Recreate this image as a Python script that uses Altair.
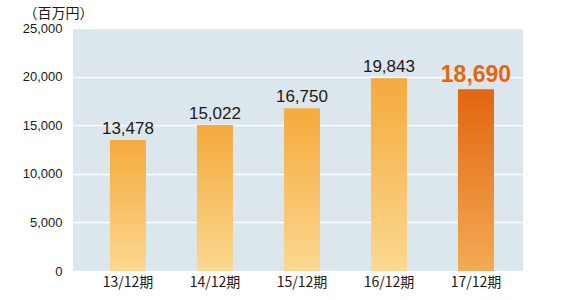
import altair as alt
import pandas as pd

periods = ["13/12期", "14/12期", "15/12期", "16/12期", "17/12期"]
values = [13478, 15022, 16750, 19843, 18690]
labels = ["13,478", "15,022", "16,750", "19,843", "18,690"]
highlight = [False, False, False, False, True]

df = pd.DataFrame({"period": periods, "value": values, "label": labels, "hl": highlight})

FONT = "Liberation Sans"
CJK = "Noto Sans CJK JP"

x_scale = alt.Scale(domain=periods, paddingInner=0.586, paddingOuter=0.379, align=0.56)
y_scale = alt.Scale(domain=[0, 25000], nice=False)

x_enc = alt.X("period:N", scale=x_scale, sort=periods,
              axis=alt.Axis(title=None, domain=False, ticks=False, labelAngle=0,
                            labelFont=CJK, labelFontSize=14, labelColor="#231815",
                            labelPadding=4))
y_enc = alt.Y("value:Q", scale=y_scale,
              axis=alt.Axis(values=[0, 5000, 10000, 15000, 20000, 25000], format=",d",
                            domain=False, ticks=False, grid=True, gridColor="#ffffff",
                            gridWidth=1.6, labelFont=FONT, labelFontSize=13,
                            labelColor="#231815", labelPadding=11,
                            title="（百万円）", titleAngle=0, titleFont=CJK,
                            titleFontSize=14, titleFontWeight="normal",
                            titleColor="#231815", titleAlign="left",
                            titleBaseline="middle", titleX=-50, titleY=-15))

grad_normal = alt.Gradient(gradient="linear", x1=0, y1=0, x2=0, y2=1,
                           stops=[alt.GradientStop(offset=0, color="#f5aa3c"),
                                  alt.GradientStop(offset=1, color="#fbd891")])
grad_hl = alt.Gradient(gradient="linear", x1=0, y1=0, x2=0, y2=1,
                       stops=[alt.GradientStop(offset=0, color="#e3650f"),
                              alt.GradientStop(offset=1, color="#f3ab55")])

base = alt.Chart(df)

bars_n = base.transform_filter("!datum.hl").mark_bar(color=grad_normal).encode(x=x_enc, y=y_enc)
bars_h = base.transform_filter("datum.hl").mark_bar(color=grad_hl).encode(x=x_enc, y=y_enc)

text_n = base.transform_filter("!datum.hl").mark_text(
    font=FONT, fontSize=17, color="#231815", baseline="alphabetic", dy=-6
).encode(x=x_enc, y=y_enc, text="label:N")
text_h = base.transform_filter("datum.hl").mark_text(
    font=FONT, fontSize=23, fontWeight="bold", color="#e8650f", baseline="alphabetic", dy=-7
).encode(x=x_enc, y=y_enc, text="label:N")

chart = alt.layer(bars_n, bars_h, text_n, text_h).properties(
    width=450, height=243,
    autosize=alt.AutoSizeParams(type="none"),
    padding={"left": 73, "top": 28, "right": 40, "bottom": 29},
    background="#ffffff",
).configure_view(fill="#dce6ed", stroke=None)

chart.save("out.html", embed_options={"renderer": "svg", "actions": False})
